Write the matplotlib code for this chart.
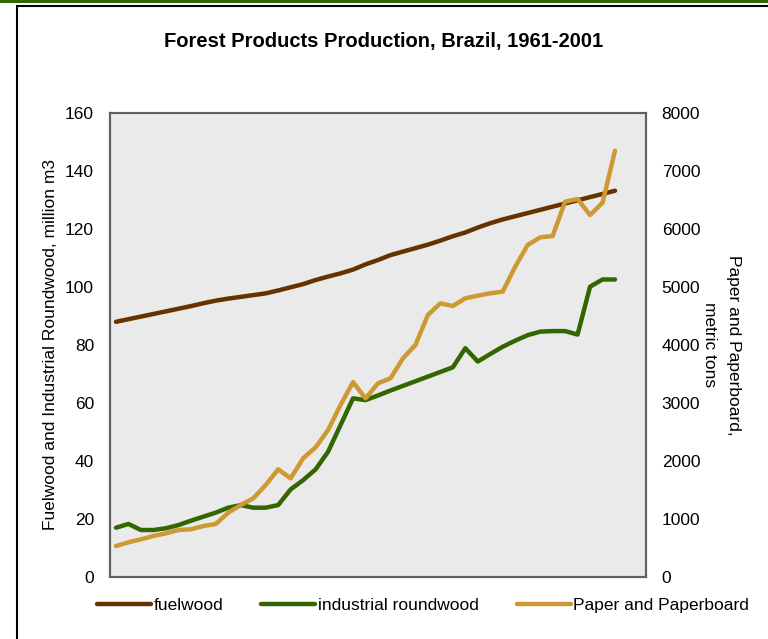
import matplotlib
matplotlib.use("Agg")
import matplotlib.pyplot as plt
from matplotlib.patches import Rectangle

plt.rcParams["font.family"] = ["Liberation Sans", "DejaVu Sans"]

BROWN = "#663300"
GREEN = "#336600"
GOLD = "#CC9933"
PLOT_BG = "#EAEAEA"

years = list(range(1961, 2002))

# million m3 (left axis)
fuelwood = [88.0, 88.9, 89.8, 90.7, 91.6, 92.5, 93.4, 94.4, 95.3, 96.0,
            96.6, 97.2, 97.8, 98.8, 99.9, 101.0, 102.4, 103.6, 104.7, 106.0,
            107.8, 109.3, 111.0, 112.2, 113.4, 114.6, 116.0, 117.5, 118.8, 120.5,
            122.0, 123.3, 124.4, 125.5, 126.6, 127.7, 128.8, 129.9, 131.0, 132.1,
            133.2]
industrial = [17.0, 18.3, 16.2, 16.2, 16.8, 17.9, 19.4, 20.8, 22.2, 23.9,
              24.8, 23.9, 23.9, 24.8, 30.2, 33.4, 37.1, 43.2, 52.4, 61.6,
              61.0, 62.6, 64.3, 65.9, 67.5, 69.1, 70.7, 72.3, 78.9, 74.3,
              76.9, 79.4, 81.5, 83.4, 84.6, 84.8, 84.8, 83.6, 100.1, 102.6,
              102.6]
# metric tons (right axis)
paper = [534, 598, 650, 707, 753, 810, 822, 879, 914, 1109,
         1241, 1356, 1586, 1856, 1701, 2046, 2236, 2534, 2966, 3360,
         3080, 3339, 3425, 3770, 4000, 4517, 4718, 4672, 4805, 4850,
         4891, 4920, 5351, 5724, 5856, 5879, 6471, 6517, 6241, 6454,
         7350]

fig = plt.figure(figsize=(7.68, 6.39), dpi=100)
fig.patch.set_facecolor("white")

# green strip on top and outer black frame
fig.patches.append(Rectangle((0, 1 - 3 / 639), 1, 3 / 639, transform=fig.transFigure,
                             facecolor="#336600", edgecolor="none"))
fig.patches.append(Rectangle((17 / 768, -0.1), 1.2, 1.1 - 6 / 639, transform=fig.transFigure,
                             facecolor="none", edgecolor="black", lw=1.5))

ax = fig.add_axes([110 / 768, 1 - 577 / 639, 535.7 / 768, 464 / 639])
ax.set_facecolor(PLOT_BG)
ax2 = ax.twinx()

kw = dict(lw=3.2, solid_capstyle="round", solid_joinstyle="round")
l1, = ax.plot(years, fuelwood, color=BROWN, label="fuelwood", **kw)
l2, = ax.plot(years, industrial, color=GREEN, label="industrial roundwood", **kw)
l3, = ax2.plot(years, paper, color=GOLD, label="Paper and Paperboard", **kw)

ax.set_xlim(1960.52, 2003.46)
ax.set_ylim(0, 160)
ax2.set_ylim(0, 8000)
ax.set_yticks(range(0, 161, 20))
ax2.set_yticks(range(0, 8001, 1000))
ax.set_xticks([])
ax.tick_params(axis="y", length=0, pad=11.5, labelsize=12.5)
ax2.tick_params(axis="y", length=0, pad=11.5, labelsize=12.5)

for a in (ax, ax2):
    for s in a.spines.values():
        s.set_color("#606060")
        s.set_linewidth(1.5)

ax.set_ylabel("Fuelwood and Industrial Roundwood, million m3", fontsize=12.5, labelpad=5)
ax2.set_ylabel("Paper and Paperboard,\nmetric tons", fontsize=12.5, rotation=-90,
               labelpad=29, linespacing=1.75)

fig.text(0.5, 1 - 42 / 639, "Forest Products Production, Brazil, 1961-2001",
         ha="center", va="center", fontsize=14.5, fontweight="bold")

fig.legend([l1, l2, l3], [l.get_label() for l in (l1, l2, l3)],
           loc="center", bbox_to_anchor=(423 / 768, 1 - 605 / 639), ncol=3,
           frameon=False, fontsize=12.5, handlelength=3.1, handletextpad=0.15,
           columnspacing=2.2)

fig.savefig("out.png", dpi=100)
